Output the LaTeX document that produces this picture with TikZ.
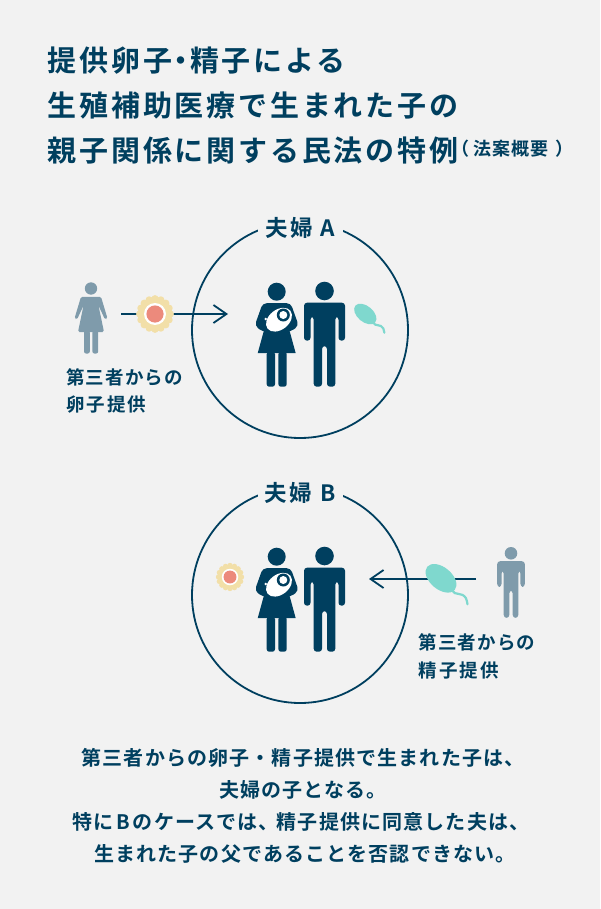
\documentclass[tikz,border=0pt]{standalone}
\usepackage{fontspec}
\setmainfont{Noto Sans CJK JP}[BoldFont={* Bold}]
\usetikzlibrary{arrows.meta}
\definecolor{bgcol}{HTML}{F2F2F2}
\definecolor{navy}{HTML}{003F5F}
\definecolor{greyblue}{HTML}{7F9BAB}
\definecolor{eggout}{HTML}{F2DFA8}
\definecolor{eggin}{HTML}{EC8A7C}
\definecolor{spermcol}{HTML}{7FD8CE}
\tikzset{
	titletext/.style={anchor=west,inner sep=0,text=navy,font=\fontsize{29}{29}\selectfont\addfontfeature{LetterSpace=9.7}\bfseries},
	notetext/.style={anchor=west,inner sep=0,text=navy,font=\fontsize{18}{18}\selectfont\addfontfeature{LetterSpace=6}\bfseries},
	bodytext/.style={anchor=west,inner sep=0,text=navy,font=\fontsize{20}{20}\selectfont\addfontfeature{LetterSpace=5.7}\bfseries},
	sidetext/.style={anchor=west,inner sep=0,text=navy,font=\fontsize{18.5}{18.5}\selectfont\addfontfeature{LetterSpace=6}\bfseries},
	couplering/.style={circle,draw=navy,line width=1.8pt,minimum size=216pt,inner sep=0},
	couplelabel/.style={fill=bgcol,inner sep=0,minimum width=85pt,minimum height=24pt,text=navy,font=\fontsize{22.5}{22.5}\selectfont\addfontfeature{LetterSpace=12}\bfseries},
	givearrow/.style={draw=navy,line width=1.8pt,-{Straight Barb[length=13pt,width=18pt,line width=1.8pt]}},
	egg/.pic={
		\foreach \a in {0,22.5,...,337.5}
			\fill[eggout] (\a:15.3) circle (3.6);
		\fill[eggout] (0,0) circle (16);
		\fill[white] (0,0) circle (11);
		\fill[eggin] (0,0) circle (8.6);
	},
	sperm/.pic={
		\fill[spermcol] (0,0) ellipse [x radius=18,y radius=11,rotate=-40];
		\draw[spermcol,line width=2.2pt,line cap=round] (11,12) .. controls (14,18) and (21,13) .. (25,20) .. controls (26,22) and (26,24) .. (26.5,26);
	},
	man/.pic={
		\fill[pic actions] (0,0) circle (9.3);
		\fill[pic actions,rounded corners=3] (-20.5,49.7) -- (-20.5,11.7) -- (20.5,11.7) -- (20.5,49.7) -- (14,49.7) -- (14,25.7) -- (10.8,25.7) -- (10.8,95.7) -- (2.5,95.7) -- (2.5,55) -- (-2.5,55) -- (-2.5,95.7) -- (-10.8,95.7) -- (-10.8,25.7) -- (-14,25.7) -- (-14,49.7) -- cycle;
	},
	mother/.pic={
		\fill[navy] (0,0) circle (9);
		\fill[navy,rounded corners=4] (-14,11.5) -- (14,11.5) -- (22,34) -- (14,40) -- (-14,40) -- (-22,34) -- cycle;
		\fill[navy] (-12,36) -- (12,36) -- (19,61.5) -- (-19,61.5) -- cycle;
		\fill[navy,rounded corners=2.5] (-10,60) -- (-1.7,60) -- (-1.7,95) -- (-10,95) -- cycle;
		\fill[navy,rounded corners=2.5] (1.7,60) -- (10,60) -- (10,95) -- (1.7,95) -- cycle;
		\fill[white] (2.3,28) ellipse [x radius=14.5,y radius=10,rotate=38];
		\fill[navy] (6.6,23.3) circle (6.5);
		\fill[white] (6.6,23.3) circle (4);
		\fill[white] (-11,27.3) circle (1.4);
	},
	donor/.pic={
		\fill[greyblue] (0,0) circle (6.2);
		\fill[greyblue,rounded corners=1.5] (-10,8.3) -- (10,8.3) -- (16.5,30) -- (14,31) -- (7.5,17) -- (13,43.5) -- (-13,43.5) -- (-7.5,17) -- (-14,31) -- (-16.5,30) -- cycle;
		\fill[greyblue,rounded corners=2] (-7,42) -- (-1.2,42) -- (-1.2,65) -- (-7,65) -- cycle;
		\fill[greyblue,rounded corners=2] (1.4,42) -- (7.2,42) -- (7.2,65) -- (1.4,65) -- cycle;
	},
}
\begin{document}
\begin{tikzpicture}[x=1pt,y=-1pt]
	\fill[bgcol] (0,0) rectangle (600,909);
	\useasboundingbox (0,0) rectangle (600,909);
	\node[titletext] (title1) at (47.5,60.5) {提供卵子\kern-5.5pt ・\kern-5.5pt 精子による};
	\node[titletext] (title2) at (47.5,105.5) {生殖補助医療で生まれた子の};
	\node[titletext] (title3) at (47.5,150.5) {親子関係に関する民法の特例};
	\node[notetext] (titlenote) at (451,149) {（\kern4.5pt 法案概要\kern7pt ）};
	\node[couplering] (ringA) at (300,330) {};
	\node[couplelabel] (labelA) at (300,228) {夫婦 A};
	\coordinate (startA) at (121,314);
	\coordinate (endA) at (228,314);
	\draw[givearrow] (startA) -- (endA);
	\pic (eggA) at (155,314) {egg};
	\pic (donorA) at (91,288.5) {donor};
	\pic (motherA) at (276.7,291.7) {mother};
	\pic[fill=navy] (manA) at (324.5,291) {man};
	\pic[scale=.72] (spermA) at (365.3,314) {sperm};
	\node[sidetext] (sideA1) at (66,377) {第三者からの};
	\node[sidetext] (sideA2) at (66,405) {卵\kern2pt 子\kern2pt 提\kern2pt 供};
	\node[couplering] (ringB) at (300,595) {};
	\node[couplelabel] (labelB) at (300,493) {夫婦 B};
	\coordinate (startB) at (476,579);
	\coordinate (endB) at (369,579);
	\draw[givearrow] (startB) -- (endB);
	\pic[scale=.75] (eggB) at (230,577) {egg};
	\pic (motherB) at (276.7,556.7) {mother};
	\pic[fill=navy] (manB) at (324.5,556) {man};
	\pic (spermB) at (441,578.3) {sperm};
	\pic[fill=greyblue,scale=.675] (donorB) at (511,553.3) {man};
	\node[sidetext] (sideB1) at (418.5,642) {第三者からの};
	\node[sidetext] (sideB2) at (418.5,670) {精\kern2pt 子\kern2pt 提\kern2pt 供};
	\node[bodytext] (body1) at (81.5,758) {第三者からの卵子・精子提供で生まれた子は、};
	\node[bodytext] (body2) at (219,790) {夫婦の子となる。};
	\node[bodytext] (body3) at (72,822) {特に\kern3pt B\kern3pt のケースでは、\kern-2pt 精子提供に同意した夫は、};
	\node[bodytext] (body4) at (94,854) {生まれた子の父であることを否認できない。};
\end{tikzpicture}
\end{document}
